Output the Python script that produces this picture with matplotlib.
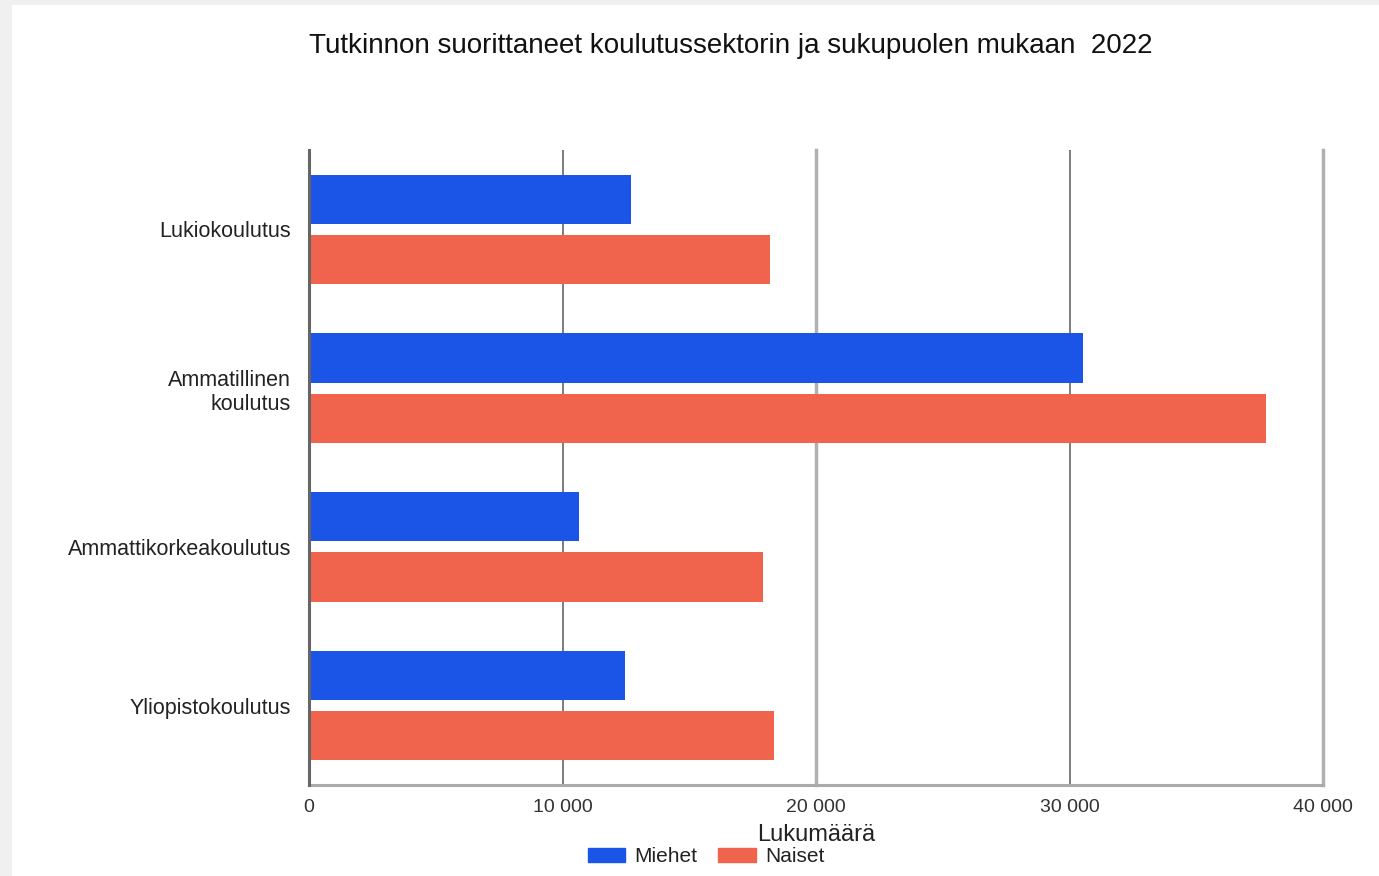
import matplotlib
matplotlib.use("Agg")
import matplotlib.pyplot as plt
import matplotlib.patches as mpatches
import numpy as np

plt.rcParams['font.family'] = ['Liberation Sans', 'DejaVu Sans']

categories = ["Lukiokoulutus", "Ammatillinen\nkoulutus", "Ammattikorkeakoulutus", "Yliopistokoulutus"]
miehet = [12700, 30550, 10650, 12450]
naiset = [18200, 37750, 17900, 18350]
xticks = [0, 10000, 20000, 30000, 40000]
xtick_labels = ["0", "10 000", "20 000", "30 000", "40 000"]

blue = '#1a55e8'
red = '#f0644d'

fig = plt.figure(figsize=(13.79, 8.76), dpi=100)
fig.patch.set_facecolor('#f0f0f0')
# white chart area (light gray frame on left/top like the screenshot)
fig.add_artist(mpatches.Rectangle((12/1379, 0), 1, 1 - 5/876, transform=fig.transFigure,
                                  facecolor='white', edgecolor='none', zorder=0))

ax = fig.add_axes([309/1379, 1 - 785/876, (1323-309)/1379, (785-150)/876])
ax.set_facecolor('none')

y = np.arange(len(categories))
h = 0.31
off = 0.19
ax.barh(y - off, miehet, height=h, color=blue, label='Miehet', zorder=3)
ax.barh(y + off, naiset, height=h, color=red, label='Naiset', zorder=3)

ax.set_xlim(0, 40000)
ax.set_ylim(len(categories) - 0.5, -0.5)
ax.set_yticks(y)
ax.set_yticklabels(categories, fontsize=15.5, color='#222222', ha='right', multialignment='right')
ax.set_xticks(xticks)
ax.set_xticklabels(xtick_labels, fontsize=14, color='#333333')
ax.tick_params(axis='both', length=0)
ax.tick_params(axis='y', pad=13)
ax.tick_params(axis='x', pad=10)

# gridlines: alternate dark thin / light thick
for v in xticks[1:]:
    if v % 20000 == 0:
        ax.axvline(v, color='#b0b0b0', linewidth=2.5, zorder=1, clip_on=False)
    else:
        ax.axvline(v, color='#666666', linewidth=1.2, zorder=1)

for s in ['top', 'right']:
    ax.spines[s].set_visible(False)
ax.spines['left'].set_color('#666666')
ax.spines['left'].set_linewidth(2.2)
ax.spines['left'].set_zorder(4)
ax.spines['bottom'].set_color('#aaaaaa')
ax.spines['bottom'].set_linewidth(2.2)

ax.set_xlabel('Lukumäärä', fontsize=17, color='#222222', labelpad=6)

fig.text(731/1379, 1 - 46/876, 'Tutkinnon suorittaneet koulutussektorin ja sukupuolen mukaan  2022',
         ha='center', va='center', fontsize=20, color='#111111')

handles = [mpatches.Patch(color=blue, label='Miehet'), mpatches.Patch(color=red, label='Naiset')]
fig.legend(handles=handles, loc='center', bbox_to_anchor=(706/1379, 1 - 857/876), ncol=2,
           frameon=False, fontsize=15, handlelength=1.8, handleheight=0.65,
           handletextpad=0.45, columnspacing=1.0, labelcolor='#222222')

fig.savefig('out.png', dpi=100, facecolor=fig.get_facecolor())
